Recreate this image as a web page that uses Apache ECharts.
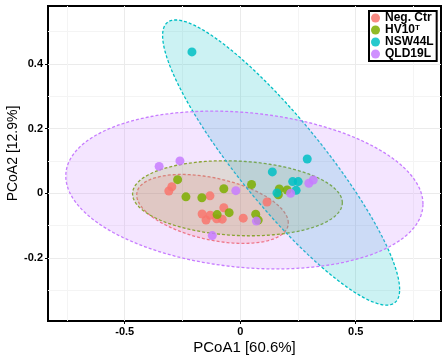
<!DOCTYPE html>
<html>
<head>
<meta charset="utf-8">
<script src="https://cdn.jsdelivr.net/npm/echarts@6/dist/echarts.min.js"></script>
<style>
  html, body { margin: 0; padding: 0; background: #fff; }
  #chart { width: 447px; height: 360px; }
</style>
</head>
<body>
<div id="chart"></div>
<script>
    // groups and sample coordinates (PCoA1, PCoA2)
    var groups = ['Neg. Ctr', 'HV10T', 'NSW44L', 'QLD19L'];

    var negCtr = [
        [-0.296, 0.020], [-0.309, 0.007], [-0.131, -0.008], [-0.071, -0.045],
        [-0.165, -0.064], [-0.130, -0.068], [-0.148, -0.083], [-0.102, -0.079],
        [-0.078, -0.080], [0.013, -0.077], [0.116, -0.027]
    ];
    var hv10 = [
        [-0.271, 0.042], [-0.235, -0.011], [-0.166, -0.014], [-0.071, 0.014],
        [-0.100, -0.066], [-0.048, -0.060], [0.049, 0.027], [0.067, -0.065],
        [0.078, -0.083], [0.169, 0.013], [0.165, -0.005], [0.203, 0.010]
    ];
    var nsw44 = [
        [-0.209, 0.437], [0.290, 0.106], [0.139, 0.066], [0.227, 0.036],
        [0.251, 0.036], [0.242, 0.009], [0.159, 0.001]
    ];
    var qld19 = [
        [-0.351, 0.083], [-0.261, 0.100], [-0.019, 0.008], [-0.121, -0.131],
        [0.218, 0.000], [0.297, 0.031], [0.316, 0.041], [0.070, -0.086]
    ];

    // confidence ellipses: centre x, centre y, spread x, spread y, correlation
    var ellNeg = [-0.120, -0.0485, 0.328, 0.1066, -0.406];
    var ellHv = [-0.012, -0.0155, 0.454, 0.116, -0.12];
    var ellNsw = [0.177, 0.095, 0.513, 0.441, -0.89];
    var ellQld = [0.018, 0.010, 0.773, 0.244, -0.177];

    // tick labels / grid lines
    var xMajor = [-0.5, 0, 0.5];
    var xMinor = [-0.75, -0.25, 0.25, 0.75];
    var yMajor = [-0.2, 0, 0.2, 0.4];
    var yMinor = [-0.3, -0.1, 0.1, 0.3, 0.5];

    var colors = ['#F8766D', '#7CAE00', '#00BFC4', '#C77CFF'];
    var points = [negCtr, hv10, nsw44, qld19];
    var ellipses = [ellNeg, ellHv, ellNsw, ellQld];
    var font = 'Liberation Sans';

    function rgba(hex, a) {
        var n = parseInt(hex.slice(1), 16);
        return 'rgba(' + (n >> 16) + ',' + ((n >> 8) & 255) + ',' + (n & 255) + ',' + a + ')';
    }

    function ellipseRenderer(col) {
        return function (params, api) {
            var cx = api.value(0), cy = api.value(1), sx = api.value(2), sy = api.value(3), r = api.value(4);
            var k = Math.sqrt(1 - r * r);
            var pts = [];
            for (var i = 0; i < 160; i++) {
                var t = i / 160 * Math.PI * 2;
                pts.push(api.coord([cx + sx * Math.cos(t), cy + sy * (r * Math.cos(t) + k * Math.sin(t))]));
            }
            return {
                type: 'polygon',
                shape: { points: pts },
                style: { fill: rgba(col, 0.2), stroke: col, lineWidth: 1.3, lineDash: [3, 2] }
            };
        };
    }

    var series = [];
    ellipses.forEach(function (e, i) {
        series.push({
            name: groups[i] + ' ellipse',
            type: 'custom',
            clip: true,
            z: 1,
            silent: true,
            encode: { x: 0, y: 1 },
            renderItem: ellipseRenderer(colors[i]),
            data: [e]
        });
    });
    points.forEach(function (p, i) {
        series.push({
            name: groups[i],
            type: 'scatter',
            z: 3,
            symbolSize: 9,
            itemStyle: { color: colors[i], opacity: 0.85 },
            data: p
        });
    });

    var tickStyle = { color: '#000', fontSize: 11, fontWeight: 'bold', fontFamily: font };

    var myChart = echarts.init(document.getElementById('chart'));

    var option = {
        animation: false,
        grid: {
            left: 48, right: 6, top: 6, bottom: 39,
            outerBoundsMode: 'none',
            show: true, borderColor: '#000', borderWidth: 2
        },
        legend: {
            data: groups,
            orient: 'vertical',
            left: 369, top: 11,
            icon: 'circle',
            itemWidth: 9, itemHeight: 9,
            itemGap: 0,
            padding: [1, 3, 1, 2],
            borderColor: '#000', borderWidth: 2,
            backgroundColor: '#fff',
            formatter: function (name) {
                return name === 'HV10T' ? '{n|HV10}{s|T}' : '{n|' + name + '}';
            },
            textStyle: {
                rich: {
                    n: { fontSize: 12, fontWeight: 'bold', fontFamily: font, color: '#000', lineHeight: 12 },
                    s: { fontSize: 8, fontWeight: 'bold', fontFamily: font, color: '#000', verticalAlign: 'top', lineHeight: 8 }
                }
            }
        },
        xAxis: [{
            type: 'value', min: -0.832, max: 0.869, position: 'bottom',
            name: 'PCoA1 [60.6%]', nameLocation: 'middle', nameGap: 19.5, nameMoveOverlap: false,
            nameTextStyle: { color: '#000', fontSize: 15, fontFamily: font },
            axisLine: { show: false, onZero: false },
            axisTick: { show: true, customValues: xMajor, length: 3, lineStyle: { color: '#000' } },
            axisLabel: Object.assign({ customValues: xMajor, margin: 5 }, tickStyle),
            splitLine: { show: true, lineStyle: { color: '#ebebeb', width: 1 } }
        }, {
            type: 'value', min: -0.832, max: 0.869, position: 'bottom',
            axisLine: { show: false, onZero: false },
            axisTick: { show: false, customValues: xMinor },
            axisLabel: { show: false },
            splitLine: { show: true, lineStyle: { color: '#f4f4f4', width: 1 } }
        }],
        yAxis: [{
            type: 'value', min: -0.395, max: 0.579, position: 'left',
            name: 'PCoA2 [12.9%]', nameLocation: 'middle', nameGap: 28, nameMoveOverlap: false,
            nameTextStyle: { color: '#000', fontSize: 14, fontFamily: font, padding: [0, 0, 0, 20] },
            axisLine: { show: false, onZero: false },
            axisTick: { show: true, customValues: yMajor, length: 3, lineStyle: { color: '#000' } },
            axisLabel: Object.assign({ customValues: yMajor, margin: 5 }, tickStyle),
            splitLine: { show: true, lineStyle: { color: '#ebebeb', width: 1 } }
        }, {
            type: 'value', min: -0.395, max: 0.579, position: 'left',
            axisLine: { show: false, onZero: false },
            axisTick: { show: false, customValues: yMinor },
            axisLabel: { show: false },
            splitLine: { show: true, lineStyle: { color: '#f4f4f4', width: 1 } }
        }],
        series: series
    };

    myChart.setOption(option);
</script>
</body>
</html>
